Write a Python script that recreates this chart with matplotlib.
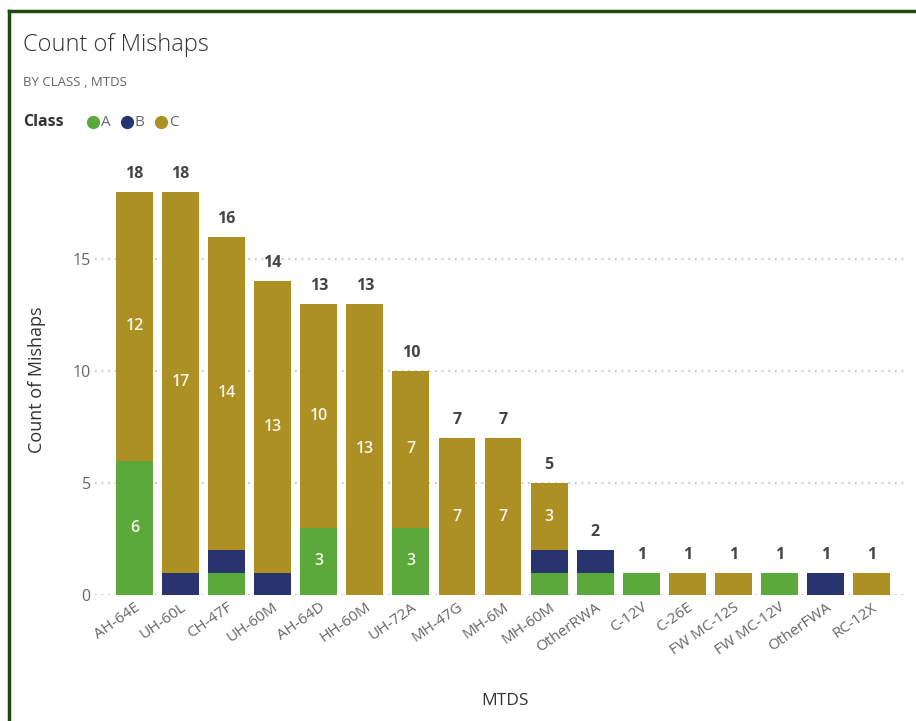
import matplotlib.pyplot as plt
from matplotlib.lines import Line2D
import numpy as np

plt.rcParams['font.family'] = ['Open Sans', 'DejaVu Sans']

mtds = ['AH-64E', 'UH-60L', 'CH-47F', 'UH-60M', 'AH-64D', 'HH-60M', 'UH-72A',
        'MH-47G', 'MH-6M', 'MH-60M', 'OtherRWA', 'C-12V', 'C-26E', 'FW MC-12S',
        'FW MC-12V', 'OtherFWA', 'RC-12X']
class_a = [6, 0, 1, 0, 3, 0, 3, 0, 0, 1, 1, 1, 0, 0, 1, 0, 0]
class_b = [0, 1, 1, 1, 0, 0, 0, 0, 0, 1, 1, 0, 0, 0, 0, 1, 0]
class_c = [12, 17, 14, 13, 10, 13, 7, 7, 7, 3, 0, 0, 1, 1, 0, 0, 1]

colors = {'A': '#5BA83B', 'B': '#28346F', 'C': '#AD9024'}

W, H = 916, 721
fig = plt.figure(figsize=(W / 100, H / 100), dpi=100)

# frame of the report tile (left and top edge visible)
fig.add_artist(Line2D([9 / W, 9 / W], [0, 1 - 11 / H], color='#1E4A12', lw=2.5,
                      transform=fig.transFigure))
fig.add_artist(Line2D([9 / W, 1], [1 - 11 / H, 1 - 11 / H], color='#1E4A12', lw=2.5,
                      transform=fig.transFigure))

ax = fig.add_axes([95 / W, 1 - 595 / H, 810 / W, 430 / H])

x = np.arange(len(mtds))
a = np.array(class_a)
b = np.array(class_b)
c = np.array(class_c)
totals = a + b + c

ax.bar(x, a, width=0.8, color=colors['A'], zorder=3)
ax.bar(x, b, width=0.8, bottom=a, color=colors['B'], zorder=3)
ax.bar(x, c, width=0.8, bottom=a + b, color=colors['C'], zorder=3)

# segment labels (only where the segment is big enough)
for i in x:
    if a[i] >= 3:
        ax.text(i, a[i] / 2, str(a[i]), ha='center', va='center', color='#F4F4E8',
                fontsize=11.5, fontweight='semibold', zorder=4)
    if c[i] >= 3:
        ax.text(i, a[i] + b[i] + c[i] / 2, str(c[i]), ha='center', va='center',
                color='#F4F4E8', fontsize=11.5, fontweight='semibold', zorder=4)
    ax.text(i, totals[i] + 0.45, str(totals[i]), ha='center', va='bottom',
            color='#444444', fontsize=11.5, fontweight='bold', zorder=4)

ax.set_xlim(-0.858, 16.727)
ax.set_ylim(0, 19.2)
ax.set_yticks([0, 5, 10, 15])
ax.yaxis.grid(True, linestyle=(0, (1, 3)), color='#BBBBBB', linewidth=1.2, zorder=0)
for s in ax.spines.values():
    s.set_visible(False)
ax.tick_params(axis='both', length=0, colors='#666666', labelsize=11.5)
ax.tick_params(axis='y', pad=3)
ax.set_xticks(x)
ax.set_xticklabels(mtds, rotation=35, ha='right', rotation_mode='anchor',
                   fontsize=11, color='#666666')

ax.set_ylabel('Count of Mishaps', fontsize=13, color='#333333')
ax.yaxis.set_label_coords((46 - 95) / 810, 0.5)
ax.set_xlabel('MTDS', fontsize=12.5, color='#333333', va='center')
ax.xaxis.set_label_coords((505 - 95) / 810, (595 - 701) / 430)

# header
fig.text(23 / W, 1 - 45 / H, 'Count of Mishaps', fontsize=17, color='#333333',
         va='center', ha='left', fontweight='light')
fig.text(23 / W, 1 - 82 / H, 'BY CLASS , MTDS', fontsize=9.5, color='#666666',
         va='center', ha='left')
fig.text(23 / W, 1 - 122 / H, 'Class', fontsize=11.5, color='#333333',
         fontweight='bold', va='center', ha='left')
lx = 93
for name in ['A', 'B', 'C']:
    fig.add_artist(Line2D([lx / W], [1 - 122 / H], marker='o', markersize=8.5,
                          color=colors[name], transform=fig.transFigure))
    fig.text((lx + 8) / W, 1 - 122 / H, name, fontsize=11, color='#666666',
             va='center', ha='left')
    lx += 34

fig.savefig('out.png', dpi=100)
